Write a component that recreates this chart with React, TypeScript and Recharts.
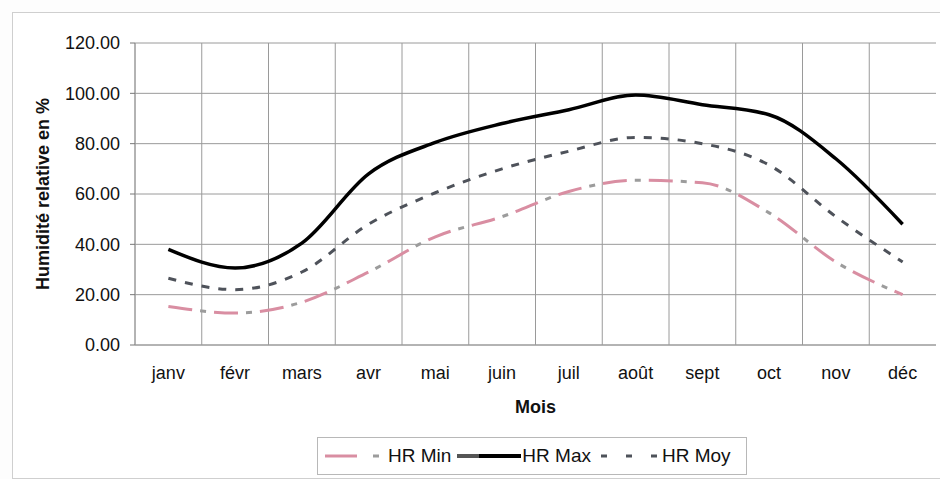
import { CartesianGrid, Line, LineChart, XAxis, YAxis } from 'recharts';

const months = ['janv', 'févr', 'mars', 'avr', 'mai', 'juin', 'juil', 'août', 'sept', 'oct', 'nov', 'déc'];
const hrMin = [15.3, 12.7, 17, 29, 43, 51, 61, 65.5, 64.5, 52.5, 33, 20];
const hrMax = [38, 30.6, 40.5, 68, 80.5, 88, 93.5, 99.3, 95.5, 91.5, 74, 48];
const hrMoy = [26.5, 22, 29, 48, 60.5, 70, 77, 82.5, 80, 71.5, 51, 33];
const yTicks = [0, 20, 40, 60, 80, 100, 120];
const seriesNames = ['HR Min', 'HR Max', 'HR Moy'];

const data = months.map((m, i) => ({ month: m, min: hrMin[i], max: hrMax[i], moy: hrMoy[i] }));

const FONT = '"Liberation Sans", Arial, sans-serif';
const PINK = '#d98ea2';
const DOT_GREY = '#9c9c9c';
const MOY_GREY = '#4e525a';
const GRID = '#9a9a9a';

function YTitle(props: any) {
  const { x, y, height } = props.viewBox;
  const cx = x + 43;
  const cy = y + height / 2;
  return (
    <text
      x={cx}
      y={cy}
      transform={`rotate(-90, ${cx}, ${cy})`}
      textAnchor="middle"
      dominantBaseline="central"
      style={{ fontFamily: FONT, fontSize: 18, fontWeight: 700, fill: '#111' }}
    >
      Humidité relative en %
    </text>
  );
}

function XTitle(props: any) {
  const { x, y, width } = props.viewBox;
  return (
    <text
      x={x + width / 2}
      y={y + 62}
      textAnchor="middle"
      dominantBaseline="central"
      style={{ fontFamily: FONT, fontSize: 18, fontWeight: 700, fill: '#111' }}
    >
      Mois
    </text>
  );
}

function Sample({ kind }: { kind: number }) {
  return (
    <svg width={64} height={10} style={{ display: 'block' }}>
      {kind === 0 && (
        <>
          <line x1={2} y1={5} x2={64} y2={5} stroke={PINK} strokeWidth={3} strokeDasharray="32 30" />
          <line x1={2} y1={5} x2={64} y2={5} stroke={DOT_GREY} strokeWidth={3} strokeDasharray="0 48 6 10" />
        </>
      )}
      {kind === 1 && (
        <>
          <line x1={0} y1={5} x2={26} y2={5} stroke="#555" strokeWidth={4} />
          <line x1={22} y1={5} x2={64} y2={5} stroke="#000" strokeWidth={4} />
        </>
      )}
      {kind === 2 && (
        <line x1={4} y1={5} x2={62} y2={5} stroke={MOY_GREY} strokeWidth={3} strokeDasharray="6 19" />
      )}
    </svg>
  );
}

export default function App() {
  return (
    <div style={{ position: 'absolute', left: 0, top: 0, width: 940, height: 479, background: '#fdfdfd', overflow: 'hidden' }}>
      <div
        style={{
          position: 'absolute',
          left: 12,
          top: 12,
          width: 940,
          height: 465,
          border: '1px solid #cfcfcf',
          background: '#fff',
        }}
      />
      <div style={{ position: 'absolute', left: 0, top: 0 }}>
        <LineChart width={940} height={479} data={data} margin={{ top: 43, right: 4, left: 0, bottom: 44 }}>
          <CartesianGrid
            stroke={GRID}
            strokeWidth={1}
            verticalCoordinatesGenerator={({ offset }: any) =>
              months.map((_, i) => offset.left + (i * offset.width) / months.length)
            }
          />
          <XAxis
            dataKey="month"
            scale="band"
            height={90}
            axisLine={{ stroke: GRID }}
            tickLine={false}
            tickSize={6}
            tickMargin={15}
            interval={0}
            tick={{ fill: '#111', fontSize: 18, fontFamily: FONT }}
            label={{ content: XTitle }}
          />
          <YAxis
            width={135}
            domain={[0, 120]}
            ticks={yTicks}
            interval={0}
            tickFormatter={(v: number) => v.toFixed(2)}
            axisLine={{ stroke: GRID }}
            tickLine={{ stroke: '#777' }}
            tickSize={5}
            tickMargin={10}
            tick={{ fill: '#111', fontSize: 18, fontFamily: FONT }}
            label={{ content: YTitle }}
          />
          <Line
            type="monotone"
            dataKey="min"
            stroke={PINK}
            strokeWidth={3}
            strokeDasharray="24 22"
            dot={false}
            isAnimationActive={false}
          />
          <Line
            type="monotone"
            dataKey="min"
            stroke={DOT_GREY}
            strokeWidth={3}
            strokeDasharray="0 32 6 8"
            dot={false}
            isAnimationActive={false}
          />
          <Line
            type="monotone"
            dataKey="moy"
            stroke={MOY_GREY}
            strokeWidth={3}
            strokeDasharray="8 9"
            dot={false}
            isAnimationActive={false}
          />
          <Line
            type="monotone"
            dataKey="max"
            stroke="#000"
            strokeWidth={3.5}
            dot={false}
            isAnimationActive={false}
          />
        </LineChart>
      </div>
      <div
        style={{
          position: 'absolute',
          left: 317,
          top: 437,
          width: 430,
          height: 38,
          border: '1px solid #b8b8b8',
          background: '#fff',
          display: 'flex',
          alignItems: 'center',
          paddingLeft: 5,
          boxSizing: 'border-box',
          fontFamily: FONT,
          fontSize: 19,
          color: '#111',
        }}
      >
        {seriesNames.map((name, i) => (
          <div key={name} style={{ display: 'flex', alignItems: 'center', marginRight: 6 }}>
            <Sample kind={i} />
            <span style={{ marginLeft: 1 }}>{name}</span>
          </div>
        ))}
      </div>
    </div>
  );
}
